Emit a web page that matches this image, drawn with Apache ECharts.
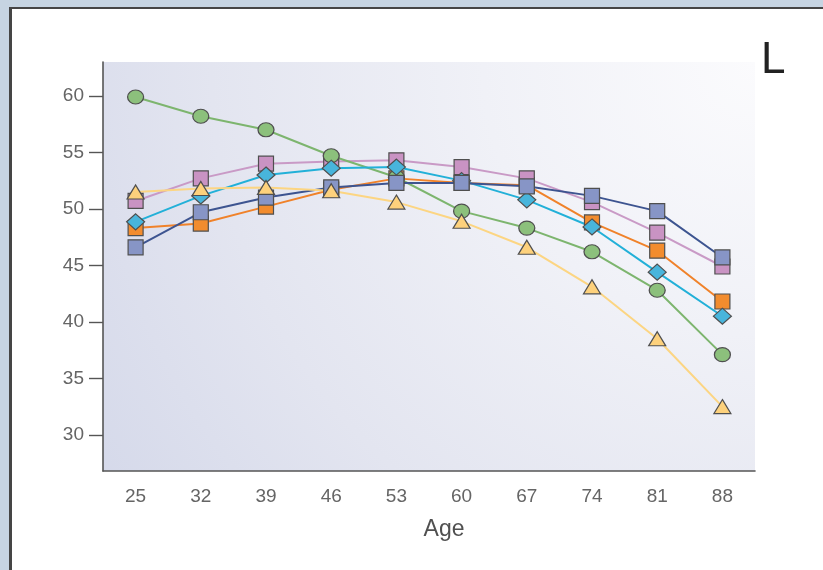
<!DOCTYPE html>
<html>
<head>
<meta charset="utf-8">
<script src="https://cdn.jsdelivr.net/npm/echarts@6/dist/echarts.min.js"></script>
<style>
  html, body { margin: 0; padding: 0; }
  body { width: 823px; height: 570px; background: #c6d4e2; position: relative; overflow: hidden; }
  #panel { position: absolute; left: 9px; top: 7px; width: 900px; height: 700px;
           background: #ffffff; border-left: 3px solid #454545; border-top: 2px solid #454545; }
  #chart { position: absolute; left: 0; top: 0; width: 823px; height: 570px; }
</style>
</head>
<body>
<div id="panel"></div>
<div id="chart"></div>
<script>
// Age groups along the x axis
const ages = ['25', '32', '39', '46', '53', '60', '67', '74', '81', '88'];

// Tick values shown on the y axis
const yTicks = [30, 35, 40, 45, 50, 55, 60];

// Scores per age group, one array per group
const greenCircle = [59.9, 58.2, 57.0, 54.7, 52.8, 49.8, 48.3, 46.2, 42.8, 37.1];
const pinkSquare = [50.7, 52.7, 54.0, 54.2, 54.3, 53.7, 52.7, 50.6, 47.9, 44.9];
const cyanDiamond = [48.85, 51.15, 53.0, 53.6, 53.7, 52.5, 50.8, 48.4, 44.4, 40.5];
const navySquare = [46.6, 49.7, 51.0, 51.9, 52.3, 52.3, 52.0, 51.15, 49.8, 45.7];
const orangeSquare = [48.3, 48.7, 50.2, 51.7, 52.7, 52.3, 52.1, 48.8, 46.3, 41.8];
const yellowTriangle = [51.5, 51.8, 51.9, 51.6, 50.6, 48.9, 46.6, 43.1, 38.5, 32.5];

const chart = echarts.init(document.getElementById('chart'), null, { renderer: 'canvas' });

function lineSeries(name, data, symbol, size, fill, stroke) {
  return {
    name: name,
    type: 'line',
    data: data,
    symbol: symbol,
    symbolSize: size,
    showAllSymbol: true,
    lineStyle: { color: stroke, width: 2 },
    itemStyle: { color: fill, borderColor: '#4f4f4f', borderWidth: 1.2 },
    emphasis: { disabled: true },
    animation: false
  };
}

const font = '"Liberation Sans", Arial, sans-serif';

chart.setOption({
  animation: false,
  textStyle: { fontFamily: font },
  grid: {
    left: 103, top: 62, right: 68, bottom: 99,
    show: true,
    borderWidth: 0,
    backgroundColor: new echarts.graphic.RadialGradient(1, 0, 1.9, [
      { offset: 0, color: '#fbfbfd' },
      { offset: 0.35, color: '#f0f1f7' },
      { offset: 0.7, color: '#e3e5f0' },
      { offset: 1, color: '#d5d9ea' }
    ])
  },
  xAxis: {
    type: 'category',
    data: ages,
    boundaryGap: true,
    name: 'Age',
    nameLocation: 'middle',
    nameGap: 47,
    nameTextStyle: { fontSize: 23, color: '#505050', fontFamily: font, padding: [0, 0, 0, 30] },
    axisLine: { lineStyle: { color: '#555555', width: 1.6 } },
    axisTick: { alignWithLabel: true, length: 13, lineStyle: { color: '#555555', width: 1.4 } },
    axisLabel: { fontSize: 19, color: '#656565', margin: 16, fontFamily: font },
    splitLine: { show: false }
  },
  yAxis: {
    type: 'value',
    min: 26.8,
    max: 63,
    axisLine: { show: true, lineStyle: { color: '#555555', width: 1.6 } },
    axisTick: { show: true, length: 14, customValues: yTicks, lineStyle: { color: '#555555', width: 1.4 } },
    axisLabel: { fontSize: 19, color: '#656565', margin: 19, customValues: yTicks, fontFamily: font },
    splitLine: { show: false }
  },
  graphic: [{
    type: 'text',
    left: 761,
    top: 39,
    style: { text: 'L', fontSize: 44, fill: '#222222', fontFamily: font }
  }],
  series: [
    lineSeries('orange', orangeSquare, 'rect', 15, '#f28c2e', '#f0822a'),
    lineSeries('pink', pinkSquare, 'rect', 15, '#c993c3', '#c99ac6'),
    lineSeries('green', greenCircle, 'circle', [16, 14], '#8cc07c', '#7db56e'),
    lineSeries('cyan', cyanDiamond, 'diamond', [18, 16], '#48b5dc', '#22b0d8'),
    lineSeries('navy', navySquare, 'rect', 15, '#8795c6', '#3d5490'),
    lineSeries('yellow', yellowTriangle, 'triangle', [17, 14], '#fdd17c', '#fcd582')
  ]
});
</script>
</body>
</html>
